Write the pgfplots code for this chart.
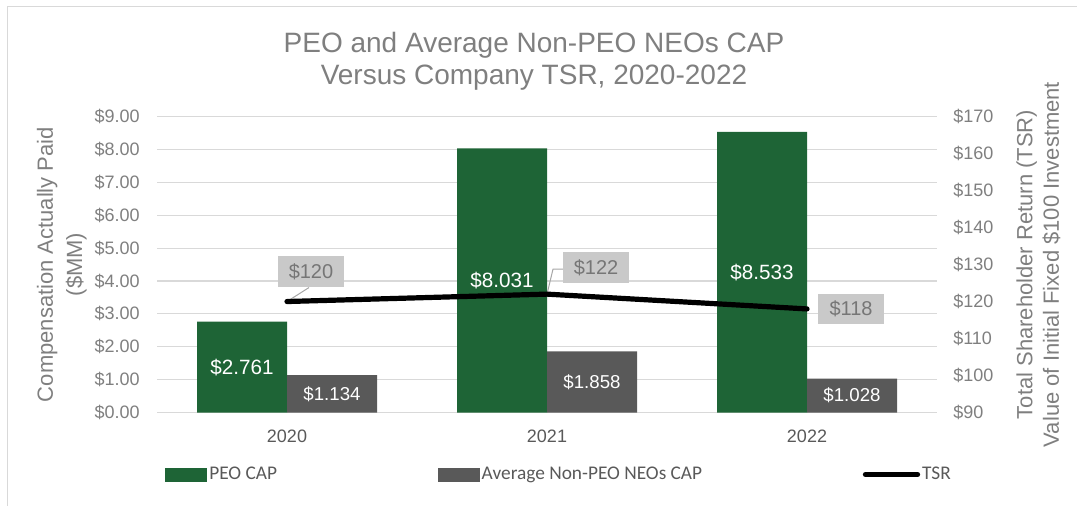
\documentclass[border=0pt]{standalone}
\usepackage{fontspec}
\setmainfont{Liberation Sans}
\newfontfamily\carlito{Carlito}
\usepackage{pgfplots}
\usepackage{pgfplotstable}
\pgfplotsset{compat=1.18}
\definecolor{peogreen}{HTML}{1E6436}
\definecolor{neogray}{HTML}{595959}
\definecolor{txtgray}{HTML}{7F7F7F}
\definecolor{gridgray}{HTML}{D9D9D9}
\definecolor{boxgray}{HTML}{C9C9C9}
\definecolor{boxtext}{HTML}{767676}
\definecolor{leader}{HTML}{A6A6A6}

\pgfplotstableread{
x peo neo
0 2.761 1.134
1 8.031 1.858
2 8.533 1.028
}\captable
\pgfplotstableread{
x tsr dx dy
0 120 18 22.5
1 122 36.75 20
2 118 33 0
}\tsrtable

\begin{document}
\begin{tikzpicture}
\useasboundingbox (0,0) rectangle (807.75pt,379.5pt);
\draw[gridgray, line width=1.2pt] (5.6pt,0) -- (5.6pt,374.6pt) -- (807.75pt,374.6pt);
\node[font=\fontsize{21}{24}\selectfont, text=txtgray, align=center] at (400.5pt,333.75pt) {PEO and Average Non-PEO NEOs CAP\\Versus Company TSR, 2020-2022};

\begin{axis}[
  at={(117.75pt,70.1pt)}, anchor=south west,
  scale only axis, width=585pt, height=222pt,
  xmin=-0.5, xmax=2.5, ymin=0, ymax=9,
  enlargelimits=false,
  ybar=0pt, bar width=67.5pt,
  axis line style={draw=none}, major tick length=0,
  ymajorgrids, grid style={gridgray, line width=0.8pt},
  xtick={0,1,2}, xticklabels={2020,2021,2022},
  ytick={0,1,...,9},
  yticklabel={\$\pgfmathprintnumber[fixed,fixed zerofill,precision=2]{\tick}},
  /pgf/number format/assume math mode=true,
  tick label style={font=\fontsize{13.5}{16}\selectfont, text=txtgray},
  yticklabel style={inner xsep=0pt, xshift=-12.75pt},
  xticklabel style={text=neogray, anchor=center, yshift=-18pt},
  ylabel={Compensation Actually Paid\\(\$MM)},
  ylabel style={font=\fontsize{16.5}{22}\selectfont, text=txtgray, align=center, at={(axis description cs:-0.122,0.5)}, anchor=center},
  legend columns=3,
  legend style={at={(axis description cs:0.0103,-0.2095)}, anchor=west, draw=none, fill=none, inner sep=0pt,
    font=\carlito\fontsize{14.5}{17}\selectfont, text=neogray,
    /tikz/every even column/.append style={column sep=119pt},
    nodes={inner xsep=1.5pt}},
  clip=false,
]
\addplot[fill=peogreen, draw=none,
  nodes near coords={\$\pgfmathprintnumber[fixed,fixed zerofill,precision=3]{\pgfplotspointmeta}},
  visualization depends on={rawy \as \rawy},
  every node near coord/.append style={font=\fontsize{15.5}{18}\selectfont, text=white, anchor=center, shift={(axis direction cs:0,-\rawy/2)}},
  legend image code/.code={\fill[peogreen] (0pt,-5.25pt) rectangle (31.5pt,5.25pt);}
] table[x=x,y=peo]{\captable};
\addlegendentry{PEO CAP}
\addplot[fill=neogray, draw=none,
  nodes near coords={\$\pgfmathprintnumber[fixed,fixed zerofill,precision=3]{\pgfplotspointmeta}},
  visualization depends on={rawy \as \rawy},
  every node near coord/.append style={font=\fontsize{14}{17}\selectfont, text=white, anchor=center, shift={(axis direction cs:0,-\rawy/2)}},
  legend image code/.code={\fill[neogray] (0pt,-5.25pt) rectangle (31.5pt,5.25pt);}
] table[x=x,y=neo]{\captable};
\addlegendentry{Average Non-PEO NEOs CAP}
\addlegendimage{legend image code/.code={\draw[black, line width=4pt, line cap=round] (0pt,0) -- (39pt,0);}}
\addlegendentry{TSR}
\end{axis}

\begin{axis}[
  at={(117.75pt,70.1pt)}, anchor=south west,
  scale only axis, width=585pt, height=222pt,
  xmin=-0.5, xmax=2.5, ymin=90, ymax=170,
  enlargelimits=false,
  axis x line=none, axis y line*=right,
  axis line style={draw=none}, major tick length=0,
  ytick={90,100,...,170},
  yticklabel={\$\pgfmathprintnumber{\tick}},
  /pgf/number format/assume math mode=true,
  tick label style={font=\fontsize{13.5}{16}\selectfont, text=txtgray},
  yticklabel style={inner xsep=0pt, xshift=12pt},
  ylabel={Total Shareholder Return (TSR)\\Value of Initial Fixed \$100 Investment},
  ylabel style={font=\fontsize{16.5}{20}\selectfont, text=txtgray, align=center, at={(axis description cs:1.13,0.5)}, anchor=center},
  clip=false,
]
\draw[leader, line width=0.75pt] (axis cs:0,120) -- ++(16.5pt,10.5pt);
\draw[leader, line width=0.75pt] (axis cs:1,122) -- ++(4.5pt,18.75pt) -- ++(7.5pt,0pt);
\addplot[black, line width=3.9pt, line cap=round, line join=round, mark=none,
  nodes near coords={\$\pgfmathprintnumber{\pgfplotspointmeta}},
  visualization depends on={\thisrow{dx} \as \dx},
  visualization depends on={\thisrow{dy} \as \dy},
  every node near coord/.append style={anchor=center, xshift=\dx pt, yshift=\dy pt, fill=boxgray, text=boxtext, minimum width=49pt, minimum height=23pt, inner sep=0pt, font=\fontsize{15}{18}\selectfont}
] table[x=x,y=tsr]{\tsrtable};
\end{axis}
\end{tikzpicture}
\end{document}
